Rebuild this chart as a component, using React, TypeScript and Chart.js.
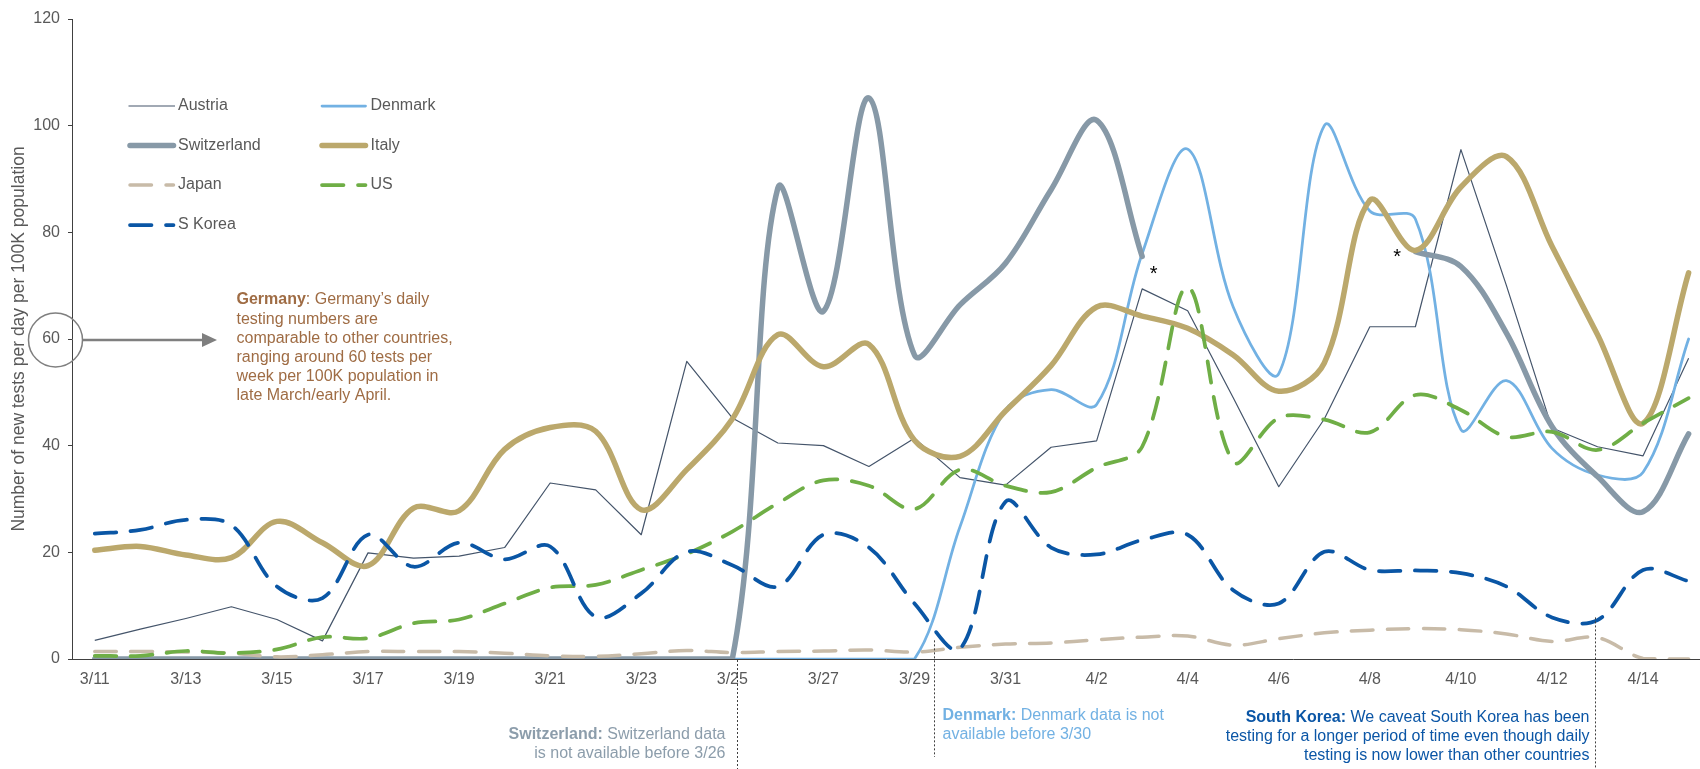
import React, { useEffect, useRef } from "react";
import { Chart, registerables } from "chart.js";

Chart.register(...registerables);

const FONT = '"Liberation Sans", Arial, Helvetica, sans-serif';

const dates = [
  "3/11", "3/12", "3/13", "3/14", "3/15", "3/16", "3/17", "3/18", "3/19", "3/20",
  "3/21", "3/22", "3/23", "3/24", "3/25", "3/26", "3/27", "3/28", "3/29", "3/30", "3/31",
  "4/1", "4/2", "4/3", "4/4", "4/5", "4/6", "4/7", "4/8", "4/9", "4/10", "4/11", "4/12", "4/13", "4/14", "4/15",
];

const tickIndexes = [0, 2, 4, 6, 8, 10, 12, 14, 16, 18, 20, 22, 24, 26, 28, 30, 32, 34];
const yTicks = [0, 20, 40, 60, 80, 100, 120];

const austria = [3.5, 5.6, 7.6, 9.8, 7.4, 3.4, 19.9, 18.9, 19.3, 20.9, 33.0, 31.7, 23.3, 55.8, 45.2, 40.5, 40.0, 36.1, 41.4, 34.0, 32.6, 39.7, 40.9, 69.4, 65.3, 49.0, 32.3, 45.0, 62.3, 62.3, 95.5, 70.0, 43.3, 39.8, 38.1, 56.4];
const denmark = [0, 0, 0, 0, 0, 0, 0, 0, 0, 0, 0, 0, 0, 0, 0, 0, 0, 0, 0, 24.8, 46.7, 50.5, 47.7, 76.0, 95.6, 66.0, 53.5, 100.0, 84.0, 82.5, 43.0, 52.2, 39.5, 34.5, 35.0, 60.0];
const switzerland = [0, 0, 0, 0, 0, 0, 0, 0, 0, 0, 0, 0, 0, 0, 0, 88.3, 65.2, 105.2, 57.0, 66.4, 74.2, 88.0, 101.0, 75.5, null, null, null, null, null, 76.4, 73.6, 61.1, 43.6, 34.2, 27.6, 42.2];
const italy = [20.4, 21.1, 19.5, 19.0, 25.8, 21.8, 17.5, 28.3, 27.8, 39.3, 43.4, 42.7, 28.0, 35.5, 45.0, 60.8, 54.8, 59.0, 41.0, 38.0, 46.5, 55.0, 66.0, 64.3, 62.0, 57.0, 50.2, 55.5, 86.0, 76.6, 88.5, 94.2, 77.4, 60.8, 44.2, 72.4];
const japan = [1.4, 1.4, 1.3, 1.1, 0.4, 0.8, 1.4, 1.4, 1.4, 1.1, 0.6, 0.5, 1.0, 1.6, 1.2, 1.4, 1.5, 1.7, 1.3, 2.2, 2.8, 3.0, 3.6, 4.1, 4.3, 2.6, 3.8, 4.9, 5.4, 5.7, 5.5, 4.7, 3.3, 4.0, 0.1, 0];
const us = [0.6, 0.6, 1.5, 1.1, 1.8, 4.1, 3.9, 6.7, 7.4, 10.4, 13.4, 13.9, 16.7, 19.7, 23.9, 29.2, 33.5, 32.5, 28.1, 35.5, 32.5, 31.3, 35.9, 39.8, 69.7, 37.0, 45.2, 44.9, 42.5, 49.5, 46.7, 41.7, 42.6, 39.2, 44.2, 48.9];
const sKorea = [23.5, 24.2, 26.1, 25.1, 13.6, 11.4, 23.3, 17.3, 21.8, 18.7, 21.1, 7.9, 12.3, 20.1, 17.6, 13.6, 23.3, 20.9, 10.4, 1.9, 29.5, 20.9, 19.6, 22.3, 23.3, 12.9, 10.4, 20.1, 16.7, 16.6, 16.1, 13.6, 7.8, 7.3, 16.7, 14.6];

const DASH = [21.5, 14.5];

const seriesStyles: Record<string, any> = {
  Austria: { color: "#44546A", width: 1.2, dash: [], tension: 0, order: 7 },
  Denmark: { color: "#72B1E3", width: 2.75, dash: [], tension: 0.35, order: 6 },
  Switzerland: { color: "#8799A7", width: 5.5, dash: [], tension: 0.35, order: 5 },
  Italy: { color: "#BBA86C", width: 5.5, dash: [], tension: 0.35, order: 4 },
  Japan: { color: "#C8BBA8", width: 3.5, dash: DASH, tension: 0.35, order: 3 },
  US: { color: "#6FAE46", width: 3.75, dash: DASH, tension: 0.35, order: 2 },
  "S Korea": { color: "#0A56A5", width: 3.75, dash: DASH, tension: 0.35, order: 1 },
};

const seriesData: [string, (number | null)[]][] = [
  ["Austria", austria],
  ["Denmark", denmark],
  ["Switzerland", switzerland],
  ["Italy", italy],
  ["Japan", japan],
  ["US", us],
  ["S Korea", sKorea],
];

const legendLayout: [string, number, number][] = [
  ["Austria", 0, 0],
  ["Denmark", 1, 0],
  ["Switzerland", 0, 1],
  ["Italy", 1, 1],
  ["Japan", 0, 2],
  ["US", 1, 2],
  ["S Korea", 0, 3],
];

type Part = [string, boolean];

function drawRich(ctx: CanvasRenderingContext2D, parts: Part[], x: number, y: number, align: "left" | "right", color: string, size = 16) {
  ctx.fillStyle = color;
  ctx.textBaseline = "middle";
  ctx.textAlign = "left";
  let total = 0;
  const widths = parts.map(([t, b]) => {
    ctx.font = `${b ? "bold " : ""}${size}px ${FONT}`;
    const w = ctx.measureText(t).width;
    total += w;
    return w;
  });
  let cx = align === "left" ? x : x - total;
  parts.forEach(([t, b], i) => {
    ctx.font = `${b ? "bold " : ""}${size}px ${FONT}`;
    ctx.fillText(t, cx, y);
    cx += widths[i];
  });
}

const notesPlugin = {
  id: "notesPlugin",
  afterDraw(chart: any) {
    const { ctx, scales } = chart;
    const xs = scales.x;
    const ys = scales.y;
    ctx.save();

    // Legend
    const colX = [130, 322];
    const textX = [178, 370.5];
    const rowY = [106, 145.5, 185, 225];
    legendLayout.forEach(([name, c, r]) => {
      const st = seriesStyles[name];
      const y = rowY[r];
      ctx.beginPath();
      ctx.strokeStyle = st.color;
      ctx.lineWidth = st.width;
      ctx.lineCap = st.width > 2 ? "round" : "butt";
      ctx.setLineDash(st.dash);
      const x0 = st.width > 2 ? colX[c] : colX[c] - 1.5;
      const x1 = st.width > 2 ? colX[c] + 43.5 : colX[c] + 45;
      ctx.moveTo(x0, y);
      ctx.lineTo(x1, y);
      ctx.stroke();
      ctx.setLineDash([]);
      drawRich(ctx, [[name, false]], textX[c], y, "left", "#595959", 16);
    });

    // Germany callout
    const y60 = ys.getPixelForValue(60) + 1;
    ctx.strokeStyle = "#7F7F7F";
    ctx.lineWidth = 1.5;
    ctx.lineCap = "butt";
    ctx.beginPath();
    ctx.ellipse(55.5, y60, 27, 27, 0, 0, Math.PI * 2);
    ctx.stroke();
    ctx.lineWidth = 2.5;
    ctx.beginPath();
    ctx.moveTo(82.5, y60);
    ctx.lineTo(204, y60);
    ctx.stroke();
    ctx.fillStyle = "#7F7F7F";
    ctx.beginPath();
    ctx.moveTo(202, y60 - 7);
    ctx.lineTo(217, y60);
    ctx.lineTo(202, y60 + 7);
    ctx.closePath();
    ctx.fill();

    const germanyLines: Part[][] = [
      [["Germany", true], [": Germany\u2019s daily", false]],
      [["testing numbers are", false]],
      [["comparable to other countries,", false]],
      [["ranging around 60 tests per", false]],
      [["week per 100K population in", false]],
      [["late March/early April.", false]],
    ];
    germanyLines.forEach((ln, i) => drawRich(ctx, ln, 236.5, 300 + i * 19.2, "left", "#9F6C44"));

    // Dotted reference lines
    const bottom = chart.chartArea.bottom;
    ctx.strokeStyle = "#3F3F3F";
    ctx.lineWidth = 1;
    ctx.setLineDash([2, 2]);
    const swX = Math.round(xs.getPixelForValue(14.1)) + 0.5;
    const dkX = Math.round(xs.getPixelForValue(18.43)) + 0.5;
    const krX = Math.round(xs.getPixelForValue(32.95)) + 0.5;
    [[swX, bottom + 1, 769], [dkX, ys.getPixelForValue(3.5), 757], [krX, ys.getPixelForValue(7.8), 769]].forEach(([x, y1, y2]) => {
      ctx.beginPath();
      ctx.moveTo(x, y1);
      ctx.lineTo(x, y2);
      ctx.stroke();
    });
    ctx.setLineDash([]);

    // Notes under the axis
    drawRich(ctx, [["Switzerland:", true], [" Switzerland data", false]], swX - 12, 735, "right", "#8C9DAB");
    drawRich(ctx, [["is not available before 3/26", false]], swX - 12, 753.5, "right", "#8C9DAB");

    drawRich(ctx, [["Denmark:", true], [" Denmark data is not", false]], dkX + 8, 715.5, "left", "#72B1E3");
    drawRich(ctx, [["available before 3/30", false]], dkX + 8, 734.5, "left", "#72B1E3");

    drawRich(ctx, [["South Korea:", true], [" We caveat South Korea has been", false]], krX - 6, 717.5, "right", "#0B56A6");
    drawRich(ctx, [["testing for a longer period of time even though daily", false]], krX - 6, 736.5, "right", "#0B56A6");
    drawRich(ctx, [["testing is now lower than other countries", false]], krX - 6, 755.5, "right", "#0B56A6");

    // Asterisks
    ctx.fillStyle = "#000000";
    ctx.font = `20px ${FONT}`;
    ctx.textAlign = "center";
    ctx.textBaseline = "alphabetic";
    ctx.fillText("*", xs.getPixelForValue(23.25), ys.getPixelForValue(73.2) + 11);
    ctx.fillText("*", xs.getPixelForValue(28.6), ys.getPixelForValue(76.4) + 11);

    ctx.restore();
  },
};

export default function App() {
  const ref = useRef<HTMLCanvasElement>(null);

  useEffect(() => {
    if (!ref.current) return;
    const datasets = seriesData.map(([name, vals]) => {
      const st = seriesStyles[name];
      return {
        label: name,
        data: vals.map((v, i) => ({ x: i, y: v })),
        borderColor: st.color,
        backgroundColor: st.color,
        borderWidth: st.width,
        borderDash: st.dash,
        borderCapStyle: st.width > 2 ? "round" : "butt",
        borderJoinStyle: "round",
        tension: st.tension,
        order: st.order,
        pointRadius: 0,
        pointHoverRadius: 0,
        fill: false,
        spanGaps: false,
      };
    });

    const chart = new Chart(ref.current, {
      type: "line",
      data: { datasets } as any,
      plugins: [notesPlugin],
      options: {
        responsive: false,
        animation: false,
        events: [],
        layout: { padding: { top: 19, right: 0, bottom: 80, left: 0 } },
        plugins: { legend: { display: false }, tooltip: { enabled: false } },
        scales: {
          x: {
            type: "linear",
            min: -0.5,
            max: 35.25,
            grid: { display: false, drawTicks: false },
            border: { display: true, color: "#404040", width: 1 },
            afterBuildTicks: (axis: any) => {
              axis.ticks = tickIndexes.map((v) => ({ value: v }));
            },
            afterFit: (axis: any) => {
              axis.height = 30;
            },
            ticks: {
              autoSkip: false,
              maxRotation: 0,
              padding: 11,
              color: "#595959",
              font: { family: FONT, size: 16 },
              callback: (v: any) => dates[v] ?? "",
            },
          },
          y: {
            min: 0,
            max: 120,
            afterBuildTicks: (axis: any) => {
              axis.ticks = yTicks.map((v) => ({ value: v }));
            },
            afterFit: (axis: any) => {
              axis.width = 72;
            },
            ticks: { padding: 8, color: "#595959", font: { family: FONT, size: 16 } },
            grid: { display: true, drawOnChartArea: false, drawTicks: true, tickLength: 4, color: "#404040" },
            border: { display: true, color: "#404040", width: 1 },
            title: {
              display: true,
              text: "Number of new tests per day per 100K population",
              color: "#595959",
              font: { family: FONT, size: 17.5 },
              padding: { top: 8.5, bottom: 0 },
            },
          },
        },
      } as any,
    });
    return () => chart.destroy();
  }, []);

  return (
    <div style={{ position: "absolute", left: 0, top: 0, width: 1700, height: 769, background: "#ffffff" }}>
      <canvas ref={ref} width={1700} height={769} style={{ display: "block", width: 1700, height: 769 }} />
    </div>
  );
}
